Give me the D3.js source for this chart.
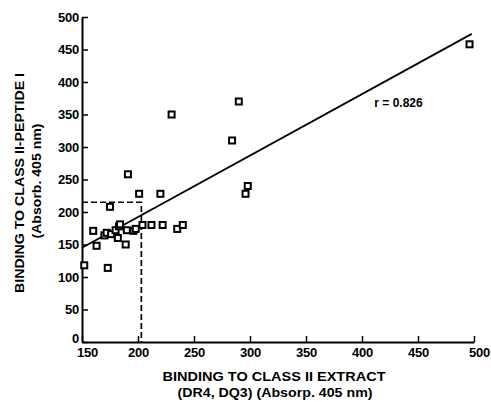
<!DOCTYPE html>
<html>
<head>
<meta charset="utf-8">
<script src="https://cdn.jsdelivr.net/npm/d3@7"></script>
<style>
  html, body { margin: 0; padding: 0; background: #fff; }
  svg text { font-family: 'Liberation Sans', Arial, sans-serif; fill: #000; }
</style>
</head>
<body>
<div id="chart"></div>
<script>
// Scatter of peptide binding vs class II extract binding, with fit line
// and a dashed box marking the low-binding region.

var extractX = [152, 160, 163, 170, 172, 173, 175, 176, 180, 182, 183, 184, 189, 190,
                191, 196, 198, 201, 204, 212, 220, 222, 230, 235, 240, 284, 290, 296, 298, 496];
var peptideY = [118, 171, 148, 164, 168, 114, 208, 166, 172, 160, 178, 181, 150, 172,
                258, 171, 174, 228, 180, 180, 228, 180, 350, 174, 180, 310, 370, 228, 240, 458];

var fitX = [150, 498];
var fitY = [145, 474];

var boxX = [150, 203];
var boxY = [0, 215];

var xTicks = [150, 200, 250, 300, 350, 400, 450, 500];
var yTicks = [0, 50, 100, 150, 200, 250, 300, 350, 400, 450, 500];

var W = 491, H = 402;
var margin = { top: 17, right: 17, bottom: 60, left: 82 };
var innerW = W - margin.left - margin.right;
var innerH = H - margin.top - margin.bottom;

var svg = d3.select('#chart').append('svg')
    .attr('width', W).attr('height', H);

var x = d3.scaleLinear().domain([150, 500]).range([0, innerW]);
var y = d3.scaleLinear().domain([0, 500]).range([innerH, 0]);

var g = svg.append('g')
    .attr('transform', 'translate(' + margin.left + ',' + margin.top + ')');

function styleAxis(ax) {
    ax.attr('font-family', null);
    ax.select('.domain').attr('stroke', '#000').attr('stroke-width', 2);
    ax.selectAll('.tick line').attr('stroke', '#000').attr('stroke-width', 1.5);
    ax.selectAll('text')
        .attr('fill', '#000')
        .attr('font-size', 13)
        .attr('font-weight', 'bold')
        .attr('letter-spacing', -0.2);
}

var xg = g.append('g').attr('transform', 'translate(0,' + innerH + ')')
    .call(d3.axisBottom(x).tickValues(xTicks).tickSizeInner(-6).tickSizeOuter(0)
        .tickPadding(6).tickFormat(d3.format('d')));
var yg = g.append('g')
    .call(d3.axisLeft(y).tickValues(yTicks).tickSizeInner(-6).tickSizeOuter(0)
        .tickPadding(3).tickFormat(d3.format('d')));
styleAxis(xg);
styleAxis(yg);
// corner labels: keep "0" and "150" apart
xg.selectAll('.tick text').filter(function (d) { return d === 150; }).attr('dx', 5);
xg.selectAll('.tick text').filter(function (d) { return d === 500; }).attr('dx', 5);
yg.selectAll('.tick text').filter(function (d) { return d === 0; }).attr('dy', '0.05em');

// dashed region
var boxPath = d3.line()([
    [x(boxX[0]), y(boxY[1])], [x(boxX[1]), y(boxY[1])], [x(boxX[1]), y(boxY[0])]
]);
g.append('path').attr('d', boxPath)
    .attr('fill', 'none').attr('stroke', '#000')
    .attr('stroke-width', 1.7).attr('stroke-dasharray', '6,3');

// regression line
g.append('line')
    .attr('x1', x(fitX[0])).attr('y1', y(fitY[0]))
    .attr('x2', x(fitX[1])).attr('y2', y(fitY[1]))
    .attr('stroke', '#000').attr('stroke-width', 1.8);

// points
var pts = extractX.map(function (d, i) { return [d, peptideY[i]]; });
g.selectAll('rect.pt').data(pts).join('rect')
    .attr('class', 'pt')
    .attr('x', function (d) { return x(d[0]) - 3; })
    .attr('y', function (d) { return y(d[1]) - 3; })
    .attr('width', 6).attr('height', 6)
    .attr('fill', '#fff').attr('stroke', '#000').attr('stroke-width', 2);

g.append('text')
    .attr('x', x(411)).attr('y', y(361))
    .attr('font-size', 12).attr('font-weight', 'bold')
    .text('r = 0.826');

// axis titles
function title(tx, ty, rot, size, len, str) {
    svg.append('text')
        .attr('transform', 'translate(' + tx + ',' + ty + ')' + (rot ? ' rotate(-90)' : ''))
        .attr('text-anchor', 'middle')
        .attr('font-size', size).attr('font-weight', 'bold')
        .attr('textLength', len).attr('lengthAdjust', 'spacingAndGlyphs')
        .text(str);
}
title(274, 381, false, 13, 223, 'BINDING TO CLASS II EXTRACT');
title(275, 397, false, 13, 195, '(DR4, DQ3) (Absorp. 405 nm)');
title(24, 183, true, 13, 220, 'BINDING TO CLASS II-PEPTIDE I');
title(41, 181, true, 13, 115, '(Absorb. 405 nm)');
</script>
</body>
</html>
